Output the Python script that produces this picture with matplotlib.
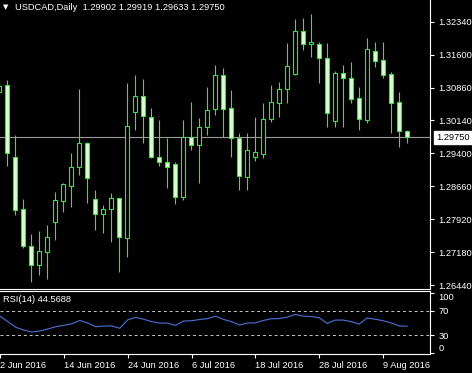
import numpy as np
import pandas as pd
import matplotlib
matplotlib.use("Agg")
import matplotlib.pyplot as plt
import matplotlib.transforms as mtransforms

plt.rcParams["font.family"] = ["Liberation Sans", "DejaVu Sans"]

# USDCAD daily candles, 2 Jun 2016 .. 12 Aug 2016
dates = pd.bdate_range("2016-06-02", "2016-08-12")

opens = [1.30770, 1.30927, 1.29313, 1.28147, 1.27317, 1.26891, 1.27182, 1.27855, 1.28326, 1.28662,
         1.29088, 1.29627, 1.28371, 1.28035, 1.28147, 1.28393, 1.27496, 1.30322, 1.30681, 1.30210,
         1.29313, 1.29201, 1.29156, 1.28416, 1.29761, 1.29582, 1.29985, 1.30389, 1.31151, 1.30412,
         1.29739, 1.28864, 1.29313, 1.29380, 1.30165, 1.30524, 1.30838, 1.31174, 1.32138, 1.31847,
         1.31847, 1.31533, 1.30120, 1.31196, 1.31084, 1.30636, 1.30142, 1.31690, 1.31488, 1.31174,
         1.30546, 1.29902]
highs = [1.31039, 1.31039, 1.29806, 1.28371, 1.27586, 1.27653, 1.27788, 1.28528, 1.28730, 1.29402,
         1.30838, 1.29649, 1.28573, 1.28236, 1.28505, 1.28400, 1.30972, 1.31151, 1.31062, 1.30412,
         1.30142, 1.29739, 1.29201, 1.30142, 1.30546, 1.30187, 1.30882, 1.31376, 1.31308, 1.30815,
         1.29851, 1.29851, 1.30210, 1.30524, 1.30927, 1.30995, 1.31869, 1.32407, 1.32430, 1.32519,
         1.31892, 1.31869, 1.31241, 1.31376, 1.31443, 1.30882, 1.31981, 1.31892, 1.31892, 1.31219,
         1.30770, 1.29919]
lows = [1.30703, 1.29111, 1.28012, 1.27272, 1.26510, 1.26667, 1.26577, 1.27452, 1.28079, 1.28192,
        1.28909, 1.28281, 1.27676, 1.27609, 1.27407, 1.26734, 1.27070, 1.29918, 1.29627, 1.29290,
        1.29111, 1.28618, 1.28259, 1.28348, 1.29470, 1.28730, 1.29806, 1.30255, 1.29761, 1.29313,
        1.28573, 1.28573, 1.29223, 1.29290, 1.30098, 1.30210, 1.30524, 1.31151, 1.31712, 1.31555,
        1.30972, 1.29985, 1.29985, 1.29985, 1.30524, 1.29918, 1.30075, 1.31331, 1.31084, 1.29851,
        1.29537, 1.29633]
closes = [1.30905, 1.29402, 1.28124, 1.27317, 1.26891, 1.27205, 1.27519, 1.28348, 1.28707, 1.29088,
          1.29627, 1.28842, 1.28035, 1.28147, 1.28393, 1.27519, 1.30008, 1.30681, 1.30232, 1.29313,
          1.29201, 1.29088, 1.28416, 1.29761, 1.29582, 1.29985, 1.30367, 1.31151, 1.30389, 1.29739,
          1.28887, 1.29470, 1.29425, 1.30165, 1.30546, 1.30838, 1.31353, 1.32138, 1.31847, 1.31892,
          1.31533, 1.30299, 1.31196, 1.31084, 1.30613, 1.30165, 1.31735, 1.31465, 1.31151, 1.30524,
          1.29896, 1.29750]

rsi = [61, 52, 42.6, 38, 35, 36.5, 40, 43.7, 46, 48.5,
       54, 49.7, 43.6, 44.7, 45, 41, 55, 59, 56, 52,
       49.7, 49.5, 45.8, 53, 53.5, 55.5, 57, 61, 55.7, 52,
       46.4, 49.7, 50, 54, 56.8, 57, 59.5, 64, 61, 60.5,
       58.4, 49, 54.6, 54.6, 52, 48, 58, 56, 53.5, 50,
       45, 44.5688]

price_ticks = [1.32340, 1.31600, 1.30860, 1.30140, 1.29400, 1.28660, 1.27920, 1.27180, 1.26440]
rsi_levels = [30, 70]
rsi_ticks = [0, 30, 70, 100]
last_bid = closes[-1]

W, H = 472, 373
fig = plt.figure(figsize=(W / 100, H / 100), dpi=100, facecolor="black")
ax = fig.add_axes([0, 1 - 289 / H, 430 / W, 289 / H], facecolor="black")
rx = fig.add_axes([0, 1 - 354 / H, 430 / W, 63 / H], facecolor="black")

edge = "#3fe03f"
x = np.arange(len(opens))
o = np.array(opens)
c = np.array(closes)
bear = c < o
fills = np.where(bear, "#d8ffd0", "black")

# candles
ax.axhline(last_bid, color="#9a9a9a", lw=0.8, zorder=1)
ax.vlines(x, lows, highs, color=edge, lw=0.8, zorder=2)
ax.bar(x, np.maximum(np.abs(c - o), 0.00005), bottom=np.minimum(o, c), width=0.58,
       color=fills, edgecolor=edge, linewidth=0.8, zorder=3)

ax.set_xlim(0.125, 53.875)
ax.set_ylim(1.263527, 1.328333)
ax.set_xticks([])
ax.yaxis.tick_right()
ax.set_yticks(price_ticks)
ax.set_yticklabels([f"{p:.5f}" for p in price_ticks])
ax.tick_params(axis="y", colors="white", length=3, width=0.8, labelsize=6.7, pad=3)
for s in ["left", "top"]:
    ax.spines[s].set_visible(False)
for s in ["right", "bottom"]:
    ax.spines[s].set_color("white")
    ax.spines[s].set_linewidth(0.8)

trans = mtransforms.blended_transform_factory(ax.transAxes, ax.transData)
ax.text(1.0, last_bid, f"{last_bid:.5f}", transform=trans, ha="left", va="center",
        fontsize=6.7, color="black", zorder=5,
        bbox=dict(boxstyle="square,pad=0.25", facecolor="white", edgecolor="white"))
# shift label a bit right of the axis line
ax.texts[-1].set_position((1.0 + 6 / 430, last_bid))

fig.text(3 / W, 1 - 7 / H, "\u25bc", fontsize=5, color="white", va="center",
         family="DejaVu Sans")
fig.text(15 / W, 1 - 7 / H, "USDCAD,Daily  1.29902 1.29919 1.29633 1.29750",
         fontsize=6.7, color="white", va="center")

# RSI panel
rx.plot(x, rsi, color="#4b72d8", lw=0.8)
for lvl in rsi_levels:
    rx.axhline(lvl, color="#c8c8c8", lw=0.7, linestyle=(0, (3, 3)))
rx.set_xlim(0.125, 53.875)
rx.set_ylim(-1.3, 102.5)
rx.yaxis.tick_right()
rx.set_yticks(rsi_ticks)
rx.set_yticklabels([str(t) for t in rsi_ticks])
rx.tick_params(axis="y", colors="white", length=3, width=0.8, labelsize=6.7, pad=3)
for lbl in rx.get_yticklabels():
    if lbl.get_text() == "100":
        lbl.set_va("top")
    elif lbl.get_text() == "0":
        lbl.set_va("bottom")

tick_idx = list(range(0, len(dates), 8))
rx.set_xticks(tick_idx)
rx.set_xticklabels([f"{dates[i].day} {dates[i]:%b %Y}" for i in tick_idx])
rx.tick_params(axis="x", colors="white", length=3, width=0.8, labelsize=6.7, pad=2)
for lbl in rx.get_xticklabels():
    lbl.set_ha("left")
rx.spines["left"].set_visible(False)
for s in ["right", "bottom", "top"]:
    rx.spines[s].set_color("white")
    rx.spines[s].set_linewidth(0.8)

rx.text(3 / 430, 1 - 9 / 63, "RSI(14) 44.5688", transform=rx.transAxes,
        fontsize=6.7, color="white", va="center")

fig.savefig("out.png", dpi=100, facecolor="black")
